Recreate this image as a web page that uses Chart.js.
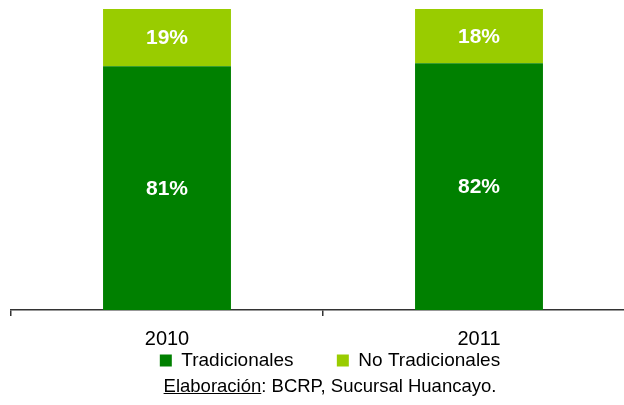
<!DOCTYPE html>
<html>
<head>
<meta charset="utf-8">
<script src="https://cdn.jsdelivr.net/npm/chart.js@4.4.1/dist/chart.umd.min.js"></script>
<style>
  html, body { margin:0; padding:0; background:#fff; }
  body { width:624px; height:405px; overflow:hidden; position:relative; }
  #wrap { position:absolute; left:0; top:0; width:660px; height:380px; }
  #credits { position:absolute; left:0; top:375px; width:660px; text-align:center; z-index:2;
    font-family:"Liberation Sans", Arial, sans-serif; font-size:18.5px; line-height:22px; color:#000; }
</style>
</head>
<body>
<div id="wrap"><canvas id="c" width="660" height="380"></canvas></div>
<div id="credits"><u>Elaboración</u>: BCRP, Sucursal Huancayo.</div>
<script>
const categories = ['2010', '2011'];
const tradicionales = [81, 82];
const noTradicionales = [19, 18];
const seriesNames = ['Tradicionales', 'No Tradicionales'];

const FONT = '"Liberation Sans", Arial, sans-serif';

const barLabels = {
  id: 'barLabels',
  afterDatasetsDraw(chart) {
    const ctx = chart.ctx;
    ctx.save();
    ctx.fillStyle = '#ffffff';
    ctx.font = 'bold 21px ' + FONT;
    ctx.textAlign = 'center';
    ctx.textBaseline = 'middle';
    chart.data.datasets.forEach((ds, i) => {
      const meta = chart.getDatasetMeta(i);
      meta.data.forEach((el, j) => {
        const p = el.getProps(['x', 'y', 'base'], true);
        ctx.fillText(ds.data[j] + '%', p.x, (p.y + p.base) / 2 + 1);
      });
    });
    ctx.restore();
  }
};

new Chart(document.getElementById('c'), {
  type: 'bar',
  data: {
    labels: categories,
    datasets: [
      { label: seriesNames[0], data: tradicionales, backgroundColor: '#008000', borderWidth: 0 },
      { label: seriesNames[1], data: noTradicionales, backgroundColor: '#99cc00', borderWidth: 0 }
    ]
  },
  options: {
    responsive: false,
    animation: false,
    devicePixelRatio: 1,
    layout: { padding: { left: 11, right: 11, top: 9, bottom: 0 } },
    datasets: { bar: { barPercentage: 0.41, categoryPercentage: 1 } },
    scales: {
      x: {
        stacked: true,
        offset: true,
        grid: { display: true, offset: true, drawOnChartArea: false, drawTicks: true, tickLength: 6, color: '#333', lineWidth: 1.5 },
        border: { display: true, color: '#333', width: 1.5 },
        ticks: { color: '#000', font: { family: FONT, size: 20, lineHeight: 1.2 }, padding: 11, maxRotation: 0 },
        afterFit(s) { s.height = Math.max(1, s.height - 12); }
      },
      y: {
        stacked: true,
        position: 'right',
        min: 0, max: 100,
        grid: { display: false },
        border: { display: false },
        ticks: { display: false },
        afterFit(s) { s.width = 14; }
      }
    },
    plugins: {
      legend: {
        position: 'bottom',
        labels: {
          color: '#000', font: { family: FONT, size: 19 }, boxWidth: 12, boxHeight: 12, padding: 1,
          generateLabels(chart) {
            const items = Chart.defaults.plugins.legend.labels.generateLabels(chart);
            items.forEach((it, i) => { if (i < items.length - 1) it.text = it.text + '        '; });
            return items;
          }
        }
      },
      tooltip: { enabled: false }
    }
  },
  plugins: [barLabels]
});
</script>
</body>
</html>
